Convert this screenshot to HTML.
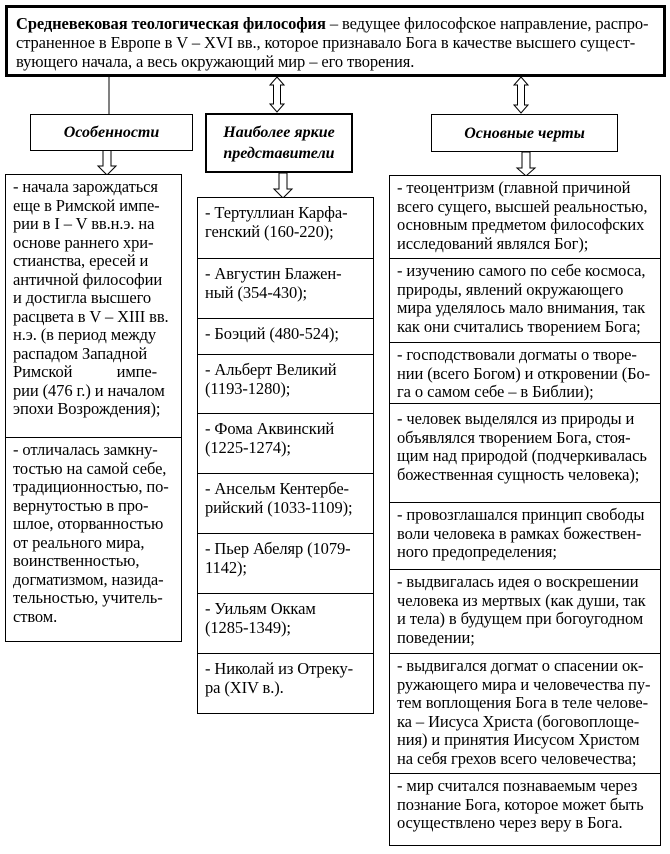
<!DOCTYPE html>
<html><head><meta charset="utf-8"><style>
body{margin:0;width:670px;height:854px;background:#fff;position:relative;overflow:hidden;font-family:"Liberation Serif","DejaVu Serif",serif;color:#000}
.b{position:absolute;border:1px solid #000;box-sizing:border-box;background:#fff}
.t{font-size:16.5px;line-height:18.5px;padding:3px 0 0 7px;white-space:nowrap;letter-spacing:-0.1px}
.h{font-weight:bold;font-style:italic;font-size:16px;text-align:center;display:flex;align-items:center;justify-content:center;line-height:21px}
svg{position:absolute;left:0;top:0}
</style></head><body>
<svg width="670" height="854">
<line x1="109" y1="76" x2="109" y2="114" stroke="#000" stroke-width="1"/>
<g fill="#fff" stroke="#000" stroke-width="1">
<path d="M277 77 L284 85 L280.5 85 L280.5 104 L284 104 L277 112 L270 104 L273.5 104 L273.5 85 L270 85 Z"/>
<path d="M521 77 L528 85 L524.5 85 L524.5 105 L528 105 L521 113 L514 105 L517.5 105 L517.5 85 L514 85 Z"/>
<path d="M103 150 L111 150 L111 166 L116 166 L107 175 L98 166 L103 166 Z"/>
<path d="M279 173 L287 173 L287 189 L292 189 L283 198 L274 189 L279 189 Z"/>
<path d="M522 152 L530 152 L530 168 L535 168 L526 176 L517 168 L522 168 Z"/>
</g>
</svg>
<div class="b t" style="left:5px;top:5px;width:661px;height:72px;border-width:3px;line-height:19px;padding:6px 0 0 8px"><b>Средневековая теологическая философия</b> – ведущее философское направление, распро-<br>страненное в Европе в V – XVI вв., которое признавало Бога в качестве высшего сущест-<br>вующего начала, а весь окружающий мир – его творения.</div>
<div class="b h" style="left:30px;top:114px;width:163px;height:37px">Особенности</div>
<div class="b h" style="left:205px;top:113px;width:148px;height:60px;border-width:2px">Наиболее яркие<br>представители</div>
<div class="b h" style="left:431px;top:114px;width:187px;height:38px">Основные черты</div>

<div class="b t" style="left:5px;top:174px;width:177px;height:264px">- начала зарождаться<br>еще в Римской импе-<br>рии в I – V вв.н.э. на<br>основе раннего хри-<br>стианства, ересей и<br>античной философии<br>и достигла высшего<br>расцвета в V – XIII вв.<br>н.э. (в период между<br>распадом Западной<br>Римской&nbsp;&nbsp;&nbsp;&nbsp;&nbsp;&nbsp;&nbsp;&nbsp;&nbsp;&nbsp;&nbsp;импе-<br>рии (476 г.) и началом<br>эпохи Возрождения);</div>
<div class="b t" style="left:5px;top:437px;width:177px;height:205px">- отличалась замкну-<br>тостью на самой себе,<br>традиционностью, по-<br>вернутостью в про-<br>шлое, оторванностью<br>от реального мира,<br>воинственностью,<br>догматизмом, назида-<br>тельностью, учитель-<br>ством.</div>

<div class="b t" style="left:197px;top:197px;width:177px;height:62px;padding-top:6px">- Тертуллиан Карфа-<br>генский (160-220);</div>
<div class="b t" style="left:197px;top:258px;width:177px;height:61px;padding-top:6px">- Августин Блажен-<br>ный (354-430);</div>
<div class="b t" style="left:197px;top:318px;width:177px;height:37px;padding-top:6px">- Боэций (480-524);</div>
<div class="b t" style="left:197px;top:354px;width:177px;height:60px;padding-top:6px">- Альберт Великий<br>(1193-1280);</div>
<div class="b t" style="left:197px;top:413px;width:177px;height:61px;padding-top:6px">- Фома Аквинский<br>(1225-1274);</div>
<div class="b t" style="left:197px;top:473px;width:177px;height:61px;padding-top:6px">- Ансельм Кентербе-<br>рийский (1033-1109);</div>
<div class="b t" style="left:197px;top:533px;width:177px;height:61px;padding-top:6px">- Пьер Абеляр (1079-<br>1142);</div>
<div class="b t" style="left:197px;top:593px;width:177px;height:61px;padding-top:6px">- Уильям Оккам<br>(1285-1349);</div>
<div class="b t" style="left:197px;top:653px;width:177px;height:61px;padding-top:6px">- Николай из Отреку-<br>ра (XIV в.).</div>

<div class="b t" style="left:389px;top:175px;width:272px;height:84px">- теоцентризм (главной причиной<br>всего сущего, высшей реальностью,<br>основным предметом философских<br>исследований являлся Бог);</div>
<div class="b t" style="left:389px;top:258px;width:272px;height:85px">- изучению самого по себе космоса,<br>природы, явлений окружающего<br>мира уделялось мало внимания, так<br>как они считались творением Бога;</div>
<div class="b t" style="left:389px;top:342px;width:272px;height:62px">- господствовали догматы о творе-<br>нии (всего Богом) и откровении (Бо-<br>га о самом себе – в Библии);</div>
<div class="b t" style="left:389px;top:403px;width:272px;height:100px;padding-top:6px">- человек выделялся из природы и<br>объявлялся творением Бога, стоя-<br>щим над природой (подчеркивалась<br>божественная сущность человека);</div>
<div class="b t" style="left:389px;top:502px;width:272px;height:68px">- провозглашался принцип свободы<br>воли человека в рамках божествен-<br>ного предопределения;</div>
<div class="b t" style="left:389px;top:569px;width:272px;height:85px">- выдвигалась идея о воскрешении<br>человека из мертвых (как души, так<br>и тела) в будущем при богоугодном<br>поведении;</div>
<div class="b t" style="left:389px;top:653px;width:272px;height:121px">- выдвигался догмат о спасении ок-<br>ружающего мира и человечества пу-<br>тем воплощения Бога в теле челове-<br>ка – Иисуса Христа (боговоплоще-<br>ния) и принятия Иисусом Христом<br>на себя грехов всего человечества;</div>
<div class="b t" style="left:389px;top:773px;width:272px;height:73px">- мир считался познаваемым через<br>познание Бога, которое может быть<br>осуществлено через веру в Бога.</div>
</body></html>
